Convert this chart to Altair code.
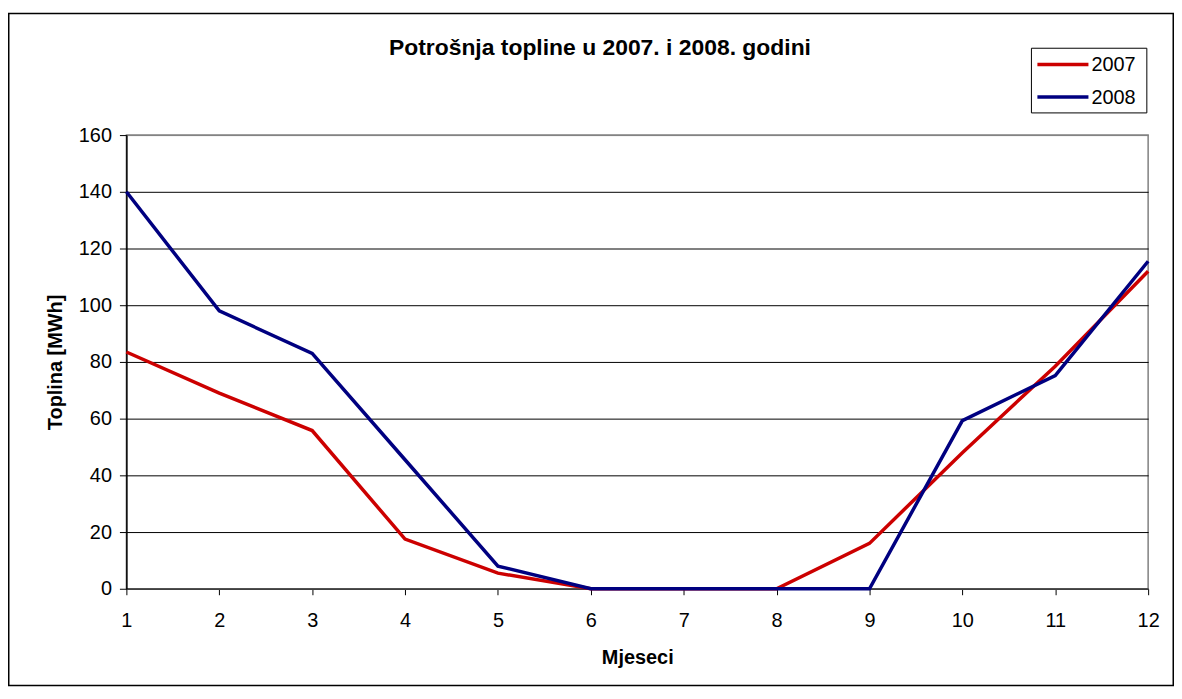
import altair as alt
import pandas as pd

# ---- data ----
months = [1, 2, 3, 4, 5, 6, 7, 8, 9, 10, 11, 12]
heat_2007 = [83.5, 69.0, 55.8, 17.5, 5.5, 0, 0, 0, 16.0, 48.0, 78.5, 112.0]
heat_2008 = [140.0, 98.0, 83.0, 45.5, 8.0, 0, 0, 0, 0, 59.3, 75.2, 115.5]
series_names = ["2007", "2008"]
series_colors = ["#CC0000", "#000080"]
y_ticks = [0, 20, 40, 60, 80, 100, 120, 140, 160]
title_text = "Potrošnja topline u 2007. i 2008. godini"
x_title = "Mjeseci"
y_title = "Toplina [MWh]"

FONT = "Liberation Sans"
W, H = 1027, 456
PAD = {"left": 119, "top": 126, "right": 26, "bottom": 98}

rows = []
for m, v in zip(months, heat_2007):
    rows.append({"month": m, "value": v, "series": series_names[0]})
for m, v in zip(months, heat_2008):
    rows.append({"month": m, "value": v, "series": series_names[1]})
df = pd.DataFrame(rows)

color_scale = alt.Scale(domain=series_names, range=series_colors)

lines = alt.Chart(df).mark_line(strokeWidth=3.5, clip=False).encode(
    x=alt.X(
        "month:Q",
        scale=alt.Scale(domain=[1, 12], nice=False, zero=False),
        axis=alt.Axis(
            values=months, grid=False, tickSize=6, tickColor="#000000", tickWidth=1,
            domainColor="#404040", domainWidth=1.5,
            labelFontSize=20, labelFont=FONT, labelColor="#000000", labelPadding=16,
            labelFlush=False,
            title=x_title, titleFont=FONT, titleFontSize=20, titleFontWeight="bold",
            titleColor="#000000", titleX=W / 2, titleY=75, titleBaseline="alphabetic",
            titleAlign="center",
        ),
    ),
    y=alt.Y(
        "value:Q",
        scale=alt.Scale(domain=[0, 160], nice=False),
        axis=alt.Axis(
            values=y_ticks, grid=True,
            gridColor={"condition": {"test": "datum.value >= 160", "value": "#808080"}, "value": "#000000"},
            gridWidth=1, tickSize=7, tickColor="#000000", tickWidth=1,
            domainColor="#000000", domainWidth=1.5,
            labelFontSize=20, labelFont=FONT, labelColor="#000000", labelPadding=8,
            labelFlush=False,
            title=y_title, titleFont=FONT, titleFontSize=20, titleFontWeight="bold",
            titleColor="#000000", titleX=-65, titleY=H / 2, titleAngle=270,
            titleBaseline="alphabetic", titleAlign="center",
        ),
    ),
    color=alt.Color("series:N", scale=color_scale, legend=None),
)

one = alt.Data(values=[{}])

outer_border = alt.Chart(one).mark_rect(fill="transparent", stroke="#000000", strokeWidth=1.5).encode(
    x=alt.value(-PAD["left"] + 0.75),
    x2=alt.value(W + PAD["right"] - 0.75),
    y=alt.value(-PAD["top"] + 3.75),
    y2=alt.value(H + PAD["bottom"] - 0.75),
)

title = alt.Chart(one).mark_text(
    font=FONT, fontSize=23, fontWeight="bold", color="#000000",
    align="center", baseline="alphabetic",
).encode(x=alt.value(476), y=alt.value(-80.7), text=alt.value(title_text))

legend_box = alt.Chart(one).mark_rect(fill="white", stroke="#000000", strokeWidth=1).encode(
    x=alt.value(909.7), x2=alt.value(1025.7), y=alt.value(-87.3), y2=alt.value(-22.3),
)

legend_df = pd.DataFrame({"series": series_names, "row": [0, 1]})
legend_y = alt.Y("row:Q", scale=alt.Scale(domain=[0, 1], range=[-71.0, -38.3]), axis=None)

legend_lines = alt.Chart(legend_df).mark_rule(strokeWidth=3.5).encode(
    x=alt.value(915.7), x2=alt.value(967.0), y=legend_y,
    color=alt.Color("series:N", scale=color_scale, legend=None),
)

legend_text = alt.Chart(legend_df).mark_text(
    font=FONT, fontSize=20, color="#000000", align="left", baseline="middle", dy=1,
).encode(x=alt.value(970.0), y=legend_y, text="series:N")

chart = alt.layer(
    outer_border, lines, title, legend_box, legend_lines, legend_text
).resolve_scale(y="independent").properties(
    width=W, height=H,
    autosize=alt.AutoSizeParams(type="none"),
    padding=PAD,
    background="white",
).configure_view(stroke="#808080", strokeWidth=1.5)

chart.save("out.html", embed_options={"renderer": "svg", "actions": False})
